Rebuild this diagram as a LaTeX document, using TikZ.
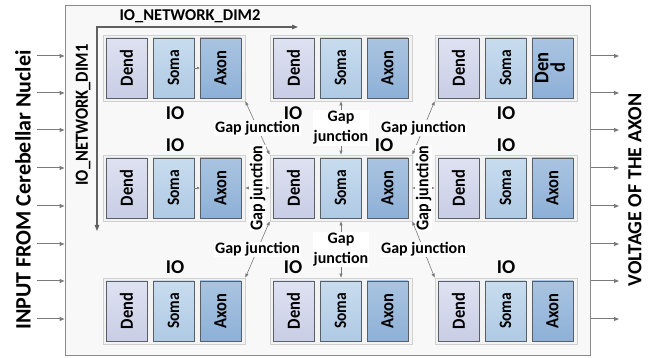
\documentclass[tikz,border=0pt]{standalone}
\usepackage{fontspec}
\setmainfont{Carlito}
\usetikzlibrary{arrows.meta}
\definecolor{dendtop}{HTML}{DFE2F1}
\definecolor{dendbot}{HTML}{C9CDE5}
\definecolor{somatop}{HTML}{C8DCEE}
\definecolor{somabot}{HTML}{AFCAE4}
\definecolor{axontop}{HTML}{A9C4E1}
\definecolor{axonbot}{HTML}{8EB0D7}
\definecolor{boxline}{HTML}{5A5F66}
\definecolor{grpline}{HTML}{D0D0D0}
\definecolor{grpfill}{HTML}{F3F3F3}
\definecolor{bgfill}{HTML}{F8F8F8}
\definecolor{bgline}{HTML}{8A8A8A}
\definecolor{arrowgray}{HTML}{7A7A7A}
\definecolor{dimgray}{HTML}{606060}
\newcommand{\vtxt}[1]{\rotatebox{90}{\scalebox{1}[1.12]{#1}}}
\begin{document}
\begin{tikzpicture}[x=1pt,y=-1pt,
  box/.style={draw=boxline, line width=0.8pt, minimum width=41pt, minimum height=60pt, inner sep=0pt, font=\bfseries\fontsize{16.5}{16.5}\selectfont},
  dendbox/.style={box, top color=dendtop, bottom color=dendbot},
  somabox/.style={box, top color=somatop, bottom color=somabot, font=\bfseries\fontsize{15.5}{15.5}\selectfont},
  axonbox/.style={box, top color=axontop, bottom color=axonbot},
  grp/.style={draw=grpline, fill=grpfill, line width=0.8pt, minimum width=142pt, minimum height=66pt, inner sep=0pt},
  gj/.style={draw=arrowgray, line width=0.6pt, {Triangle[length=4pt,width=3pt]}-{Triangle[length=4pt,width=3pt]}},
  gjl/.style={fill=white, inner sep=1pt, font=\bfseries\fontsize{16}{20}\selectfont, align=center},
  tiny/.style={draw=arrowgray, line width=0.5pt, -{Triangle[length=2.5pt,width=2.5pt]}},
  iolbl/.style={font=\bfseries\fontsize{19.5}{19.5}\selectfont, inner sep=0pt},
  dimlbl/.style={font=\bfseries\fontsize{16.5}{16.5}\selectfont, inner sep=0pt},
  dimarrow/.style={draw=dimgray, line width=1.2pt, {Triangle[length=6pt,width=4.5pt]}-{Triangle[length=6pt,width=4.5pt]}},
  ioarrow/.style={draw=arrowgray, line width=1pt, -{Triangle[length=5pt,width=4pt]}},
  bigl/.style={font=\bfseries\fontsize{22}{22}\selectfont, inner sep=0pt}
]
\useasboundingbox (0,0) rectangle (654,358);
\node[draw=bgline, fill=bgfill, line width=1pt, minimum width=525pt, minimum height=350pt, inner sep=0pt] (outer) at (327.5,181) {};
% dimension arrows
\coordinate (dimo) at (97,27);
\coordinate (dimx) at (298,27);
\coordinate (dimy) at (97,231);
\draw[dimarrow] (dimx) -- (dimo) -- (dimy);
\node[dimlbl] (dim2) at (190,16) {IO\_NETWORK\_DIM2};
\node[dimlbl] (dim1) at (83,115) {\vtxt{IO\_NETWORK\_DIM1}};
% groups
\foreach \r/\gy in {1/35,2/155,3/278}{
  \foreach \c/\gx in {1/103,2/270,3/435}{
    \node[grp] (g\r\c) at ({\gx+71},{\gy+33}) {};
    \node[dendbox] (d\r\c) at ({\gx+23.5},{\gy+33}) {\vtxt{Dend}};
    \node[somabox] (s\r\c) at ({\gx+70.5},{\gy+33}) {\vtxt{Soma}};
    \node[axonbox] (a\r\c) at ({\gx+117.5},{\gy+33}) {\ifnum\r\c=13 \fontsize{18.5}{16}\selectfont\vtxt{\begin{tabular}{@{}c@{}}Den\\[-3pt]d\end{tabular}}\else\vtxt{Axon}\fi};
  }
}
\draw[tiny] (s11.east) -- (a11.west);
\draw[tiny] (s21.east) -- (a21.west);
% gap junctions
\draw[gj] (g11.south east) -- node[gjl]{Gap junction} (g22.north west);
\draw[gj] (g12.south) -- node[gjl]{Gap\\junction} (g22.north);
\draw[gj] (g13.south west) -- node[gjl]{Gap junction} (g22.north east);
\draw[gj] (g21.east) -- node[gjl]{\vtxt{Gap junction}} (g22.west);
\draw[gj] (g22.east) -- node[gjl]{\vtxt{Gap junction}} (g23.west);
\draw[gj] (g22.south west) -- node[gjl]{Gap junction} (g31.north east);
\draw[gj] (g22.south) -- node[gjl]{Gap\\junction} (g32.north);
\draw[gj] (g22.south east) -- node[gjl]{Gap junction} (g33.north west);
% IO labels
\node[iolbl] (io11) at (175,113) {IO};
\node[iolbl] (io12) at (293,113) {IO};
\node[iolbl] (io13) at (506,113) {IO};
\node[iolbl] (io21) at (175,145.5) {IO};
\node[iolbl] (io22) at (384,145.5) {IO};
\node[iolbl] (io23) at (506,145.5) {IO};
\node[iolbl] (io31) at (175,267) {IO};
\node[iolbl] (io32) at (293,267) {IO};
\node[iolbl] (io33) at (506,267) {IO};
% input / output arrows
\foreach \i/\yy in {1/56,2/93,3/130,4/168,5/206,6/244,7/281,8/319}{
  \coordinate (in\i) at (37,\yy);
  \draw[ioarrow] (in\i) -- (in\i -| outer.west);
  \coordinate (out\i) at (619,\yy);
  \draw[ioarrow] (out\i -| outer.east) -- (out\i);
}
\node[bigl, rotate=90] (inlbl) at (23,190) {INPUT FROM Cerebellar Nuclei};
\node[bigl, rotate=90, font=\bfseries\fontsize{20}{20}\selectfont] (outlbl) at (635,190) {VOLTAGE OF THE AXON};
\end{tikzpicture}
\end{document}
